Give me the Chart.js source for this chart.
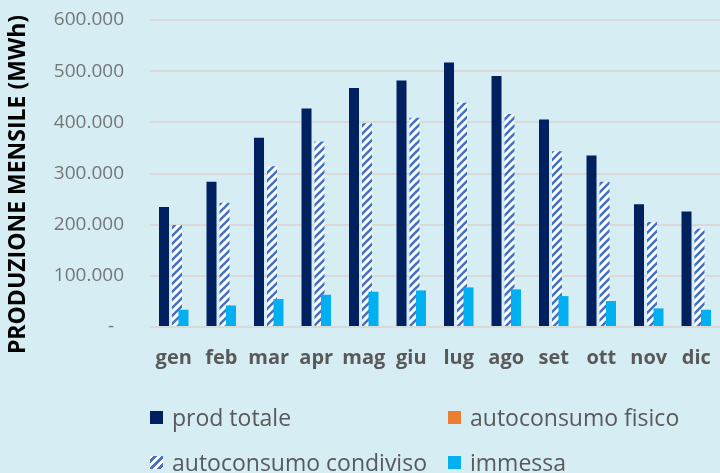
<!DOCTYPE html>
<html lang="it">
<head>
<meta charset="utf-8">
<title>Produzione mensile</title>
<script src="https://cdn.jsdelivr.net/npm/chart.js@4.4.1/dist/chart.umd.min.js"></script>
<style>
  body { margin: 0; background: #d6edf4; }
  #wrap { position: relative; width: 720px; height: 473px; overflow: hidden; }
  #chart { position: absolute; left: 0; top: 0; }
  .legend-item { position: absolute; font: 23px "Open Sans", sans-serif; color: #595959; line-height: 1; white-space: nowrap; }
  .swatch { position: absolute; width: 13px; height: 13px; }
</style>
</head>
<body>
<div id="wrap">
  <canvas id="chart" width="720" height="473"></canvas>
  <div id="legend"></div>
</div>
<script>
const months = ["gen", "feb", "mar", "apr", "mag", "giu", "lug", "ago", "set", "ott", "nov", "dic"];
const prodTotale = [234500, 284000, 370000, 427000, 467000, 482000, 517000, 490500, 405500, 335000, 240000, 225500];
const autoconsumoFisico = [0, 0, 0, 0, 0, 0, 0, 0, 0, 0, 0, 0];
const autoconsumoCondiviso = [199500, 243000, 314000, 362500, 398000, 409000, 438500, 416500, 343500, 284000, 205000, 192000];
const immessa = [33700, 42000, 54600, 63000, 68800, 71500, 77400, 73500, 60400, 50700, 36400, 33700];
const yTicks = [0, 100000, 200000, 300000, 400000, 500000, 600000];

const navy = "#002060";
const orange = "#ed7d31";
const hatchBlue = "#4472c4";
const cyan = "#00b0f0";

function hatchPattern() {
  const tile = document.createElement("canvas");
  tile.width = 8;
  tile.height = 8;
  const ctx = tile.getContext("2d");
  ctx.fillStyle = "#ffffff";
  ctx.fillRect(0, 0, 8, 8);
  ctx.strokeStyle = hatchBlue;
  ctx.lineWidth = 2.6;
  ctx.beginPath();
  ctx.moveTo(-2, 10); ctx.lineTo(10, -2);
  ctx.moveTo(-6, 6); ctx.lineTo(6, -6);
  ctx.moveTo(2, 14); ctx.lineTo(14, 2);
  ctx.stroke();
  return ctx.createPattern(tile, "repeat");
}

function formatThousands(value) {
  if (value === 0) return "-  ";
  return String(value).replace(/\B(?=(\d{3})+(?!\d))/g, ".");
}

// draw datasets left to right so later series sit on top
const drawForward = {
  id: "drawForward",
  beforeDatasetsDraw(chart) {
    chart.getSortedVisibleDatasetMetas().forEach((meta) => meta.controller.draw());
    return false;
  },
};

const yTitle = {
  id: "yTitle",
  afterDraw(chart) {
    const ctx = chart.ctx;
    ctx.save();
    ctx.translate(18.5, 184.5);
    ctx.rotate(-Math.PI / 2);
    ctx.font = "bold 23px 'Open Sans', sans-serif";
    ctx.fillStyle = "#000000";
    ctx.textAlign = "center";
    ctx.textBaseline = "middle";
    ctx.fillText("PRODUZIONE MENSILE (MWh)", 0, 0);
    ctx.restore();
  },
};

const barOpts = { categoryPercentage: 0.547, barPercentage: 1.54, borderWidth: 0 };

new Chart(document.querySelector("#chart"), {
  type: "bar",
  data: {
    labels: months,
    datasets: [
      { label: "prod totale", data: prodTotale, backgroundColor: navy, ...barOpts },
      { label: "autoconsumo fisico", data: autoconsumoFisico, backgroundColor: orange, ...barOpts },
      { label: "autoconsumo condiviso", data: autoconsumoCondiviso, backgroundColor: hatchPattern(), ...barOpts },
      { label: "immessa", data: immessa, backgroundColor: cyan, ...barOpts },
    ],
  },
  options: {
    responsive: false,
    animation: false,
    layout: { padding: { top: 20, right: 0, left: 0, bottom: 90 } },
    scales: {
      x: {
        grid: { display: false, drawTicks: false },
        border: { display: false },
        ticks: {
          color: "#595959",
          padding: 19,
          maxRotation: 0,
          autoSkip: false,
          font: { family: "'Open Sans', sans-serif", size: 20, weight: "bold" },
        },
        afterFit: (scale) => {
          scale.height = 56;
          scale.paddingLeft = 0;
          scale.paddingRight = 0;
        },
      },
      y: {
        min: 0,
        max: 600000,
        afterBuildTicks: (scale) => { scale.ticks = yTicks.map((value) => ({ value })); },
        grid: { color: "#d9d9d9", lineWidth: 2, drawTicks: false },
        border: { display: false },
        ticks: { color: "#767676", padding: 26, callback: formatThousands, font: { family: "'Open Sans', sans-serif", size: 19 } },
        afterFit: (scale) => {
          scale.width = 150;
          scale.paddingTop = 0;
          scale.paddingBottom = 0;
        },
      },
    },
    plugins: {
      legend: { display: false },
      tooltip: { enabled: false },
    },
  },
  plugins: [drawForward, yTitle],
});

const legendItems = [
  { label: "prod totale", fill: navy, left: 150, top: 411 },
  { label: "autoconsumo fisico", fill: orange, left: 448, top: 411 },
  { label: "autoconsumo condiviso", fill: "hatch", left: 150, top: 456 },
  { label: "immessa", fill: cyan, left: 448, top: 456 },
];

document.querySelector("#legend").innerHTML = legendItems.map((item) => {
  const bg = item.fill === "hatch"
    ? `background: repeating-linear-gradient(-45deg, #fff 0 2px, ${hatchBlue} 2px 4.5px, #fff 4.5px 5.7px);`
    : `background: ${item.fill};`;
  return `
    <div class="swatch" style="left:${item.left}px; top:${item.top}px; ${bg}"></div>
    <div class="legend-item" style="left:${item.left + 22}px; top:${item.top - 5}px;">${item.label}</div>
  `;
}).join("");
</script>
</body>
</html>
